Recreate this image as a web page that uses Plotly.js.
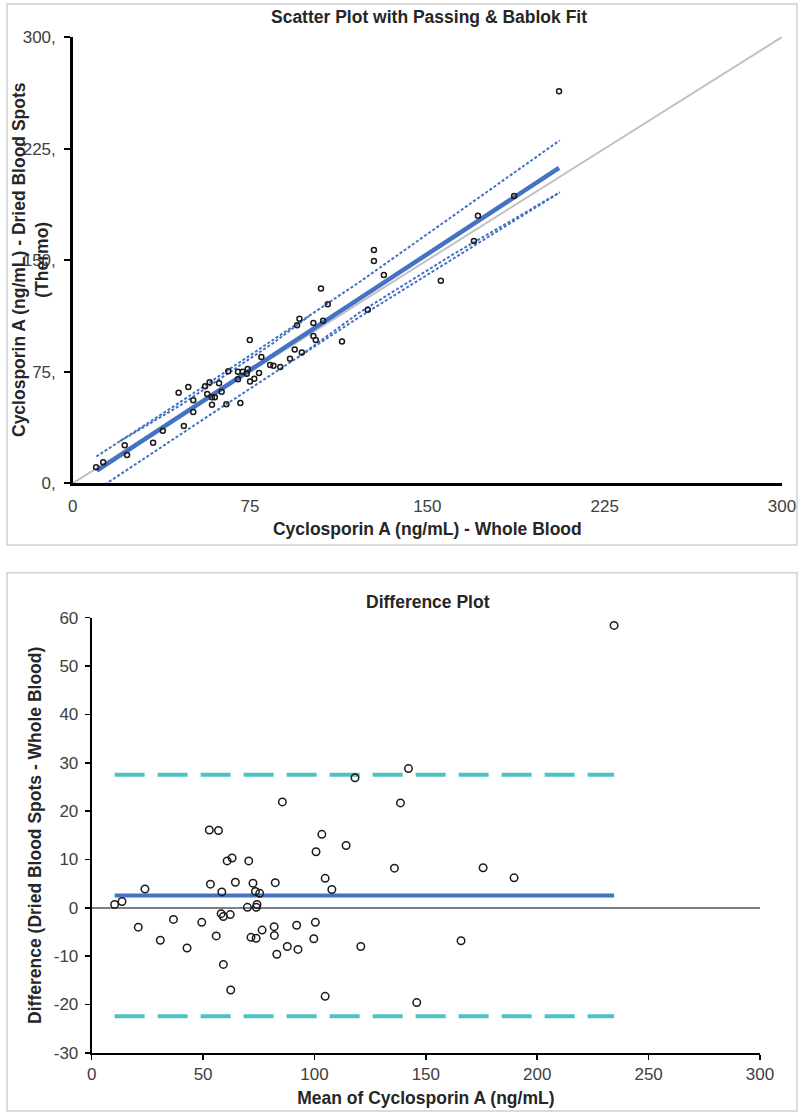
<!DOCTYPE html>
<html>
<head>
<meta charset="utf-8">
<script src="https://cdn.plot.ly/plotly-3.0.1.min.js"></script>
<style>html,body{margin:0;padding:0;background:#fff;}#chart{width:804px;height:1112px;}</style>
</head>
<body>
<div id="chart"></div>
<script>
// ---- Scatter plot data (Whole Blood vs Dried Blood Spots), ng/mL ----
const wholeBlood = [9.9,12.9,22.0,23.0,34.0,38.1,47.0,44.8,48.9,51.0,51.0,56.0,57.9,56.9,58.9,60.1,58.9,61.9,63.0,65.0,65.8,70.9,69.9,71.9,74.0,73.6,69.9,75.0,76.8,78.8,74.9,79.8,83.5,84.9,87.8,91.9,93.9,96.9,94.9,95.9,101.8,101.8,102.8,105.9,107.9,105.0,113.9,124.8,127.4,127.4,131.6,155.7,169.7,171.4,186.7,205.7];
const driedBlood = [10.8,14.1,25.5,19.0,27.3,35.4,38.5,60.9,64.7,47.9,55.8,65.2,67.9,60.0,57.8,57.8,52.8,67.2,61.6,53.1,75.3,54.0,75.0,75.0,76.8,73.7,69.9,68.5,70.3,74.1,96.3,84.9,79.5,79.0,78.2,83.7,90.0,88.0,106.2,110.6,107.7,99.0,96.3,109.3,120.3,131.0,95.4,116.7,156.8,149.5,140.1,136.1,162.9,179.8,193.1,263.6];

// Passing & Bablok fit line and confidence band
const fitX = [10.2, 205.7];
const fitY = [8.6, 212.0];
const identityX = [0, 300];
const identityY = [0, 300];
const ciUpperX = [10, 45.4, 121.5, 206];
const ciUpperY = [18, 54.5, 135.5, 230.5];
const ciUpperInnerX = [20, 45.4, 85, 100];
const ciUpperInnerY = [28.3, 52.3, 94.5, 112.5];
const ciLowerX = [10, 14.4, 60, 121.5, 206];
const ciLowerY = [-4.5, 0, 48, 112, 195.5];
const ciLowerInnerX = [95, 121.5, 160, 206];
const ciLowerInnerY = [84.4, 115, 153, 195.5];

const scatterTickVals = [0, 75, 150, 225, 300];
const scatterXTickText = ['0', '75', '150', '225', '300'];
const scatterYTickText = ['0,', '75,', '150,', '225,', '300,'];

// ---- Difference plot data ----
const meanValues = [10.3,13.6,23.9,20.9,30.8,36.7,42.8,49.4,52.8,56.9,53.3,55.9,59.1,62.4,58.4,58.1,59.1,62.2,60.8,63.0,64.5,70.5,72.4,69.9,73.5,75.4,74.2,73.9,71.5,73.8,76.5,82.4,81.9,82.0,83.1,85.6,87.8,92.0,92.6,99.7,100.4,100.7,103.3,104.8,107.8,104.8,114.2,118.2,120.8,135.9,138.6,142.2,145.9,165.8,175.7,189.6,234.5];
const diffValues = [0.7,1.3,3.9,-4.0,-6.7,-2.4,-8.3,-3.0,16.1,16.0,4.9,-5.8,-11.7,-17.0,3.3,-1.2,-1.8,-1.4,9.7,10.3,5.3,9.7,5.1,0.1,3.4,3.0,0.7,0.1,-6.1,-6.3,-4.6,5.2,-3.9,-5.7,-9.6,21.9,-8.0,-3.6,-8.6,-6.4,-3.0,11.6,15.2,6.1,3.8,-18.3,12.9,26.9,-8.0,8.2,21.7,28.8,-19.6,-6.8,8.3,6.2,58.4];
const meanDiff = 2.55;
const upperLoA = 27.5;
const lowerLoA = -22.4;
const refLineX = [10.3, 234.5];

const diffTickVals = [-30, -20, -10, 0, 10, 20, 30, 40, 50, 60];
const diffTickText = ['-30', '-20', '-10', '0', '10', '20', '30', '40', '50', '60'];
const meanTickVals = [0, 50, 100, 150, 200, 250, 300];
const meanTickText = ['0', '50', '100', '150', '200', '250', '300'];

const BLUE = '#4472C4';
const TEAL = '#4CC3C1';
const FONT = 'Liberation Sans, Arial, sans-serif';
const W = 804, H = 1112;
const px = v => v / W;
const py = v => 1 - v / H;

const traces = [
  {x: identityX, y: identityY, mode: 'lines', line: {color: '#C0C0C0', width: 2}, xaxis: 'x', yaxis: 'y', hoverinfo: 'skip'},
  {x: ciUpperX, y: ciUpperY, mode: 'lines', line: {color: BLUE, width: 2, dash: '3px,2px'}, xaxis: 'x', yaxis: 'y'},
  {x: ciUpperInnerX, y: ciUpperInnerY, mode: 'lines', line: {color: BLUE, width: 2, dash: '3px,2px'}, xaxis: 'x', yaxis: 'y'},
  {x: ciLowerX, y: ciLowerY, mode: 'lines', line: {color: BLUE, width: 2, dash: '3px,2px'}, xaxis: 'x', yaxis: 'y'},
  {x: ciLowerInnerX, y: ciLowerInnerY, mode: 'lines', line: {color: BLUE, width: 2, dash: '3px,2px'}, xaxis: 'x', yaxis: 'y'},
  {x: fitX, y: fitY, mode: 'lines', line: {color: BLUE, width: 4.5}, xaxis: 'x', yaxis: 'y'},
  {x: wholeBlood, y: driedBlood, mode: 'markers', marker: {symbol: 'circle-open', size: 5, color: '#1a1a1a', line: {width: 1.5, color: '#1a1a1a'}}, xaxis: 'x', yaxis: 'y'},

  {x: refLineX, y: refLineX.map(() => upperLoA), mode: 'lines', line: {color: TEAL, width: 4, dash: '30px,13px'}, xaxis: 'x2', yaxis: 'y2'},
  {x: refLineX, y: refLineX.map(() => lowerLoA), mode: 'lines', line: {color: TEAL, width: 4, dash: '30px,13px'}, xaxis: 'x2', yaxis: 'y2'},
  {x: refLineX, y: refLineX.map(() => meanDiff), mode: 'lines', line: {color: BLUE, width: 4}, xaxis: 'x2', yaxis: 'y2'},
  {x: meanValues, y: diffValues, mode: 'markers', marker: {symbol: 'circle-open', size: 7.5, color: '#1a1a1a', line: {width: 1.5, color: '#1a1a1a'}}, xaxis: 'x2', yaxis: 'y2'}
];

const tickFont = {family: FONT, size: 17, color: '#404040'};
const titleFont = {family: FONT, size: 17.5, color: '#262626'};

const layout = {
  width: W, height: H,
  margin: {l: 0, r: 0, t: 0, b: 0},
  paper_bgcolor: '#ffffff', plot_bgcolor: 'rgba(0,0,0,0)',
  showlegend: false,
  font: {family: FONT},
  title: {text: '<b>Scatter Plot with Passing &amp; Bablok Fit</b>', x: px(429), y: py(17), xanchor: 'center', yanchor: 'middle', xref: 'paper', yref: 'paper', font: titleFont},
  xaxis: {
    domain: [px(72.7), px(782)], range: [0, 300], tickvals: scatterTickVals, ticktext: scatterXTickText,
    ticks: '', showline: true, linecolor: '#000', linewidth: 2.5, showgrid: false, zeroline: false,
    tickfont: tickFont, ticklabelstandoff: 6, anchor: 'y',
    title: {text: '<b>Cyclosporin A (ng/mL) - Whole Blood</b>', font: titleFont, standoff: 8}
  },
  yaxis: {
    domain: [py(483.3), py(37)], range: [0, 300], tickvals: scatterTickVals, ticktext: scatterYTickText,
    ticks: 'outside', ticklen: 6, tickwidth: 2, tickcolor: '#000', showline: true, linecolor: '#000', linewidth: 2.5,
    showgrid: false, zeroline: false, tickfont: tickFont, ticklabelstandoff: 5, anchor: 'x'
  },
  xaxis2: {
    domain: [px(91.7), px(760)], range: [0, 300], tickvals: meanTickVals, ticktext: meanTickText,
    ticks: 'outside', ticklen: 5, tickwidth: 1.5, tickcolor: '#000', showline: true, linecolor: '#000', linewidth: 2,
    showgrid: false, zeroline: false, tickfont: tickFont, anchor: 'y2',
    title: {text: '<b>Mean of Cyclosporin A (ng/mL)</b>', font: titleFont, standoff: 8}
  },
  yaxis2: {
    domain: [py(1052.9), py(617.7)], range: [-30, 60], tickvals: diffTickVals, ticktext: diffTickText,
    ticks: 'outside', ticklen: 5, tickwidth: 1.5, tickcolor: '#000', showline: true, linecolor: '#000', linewidth: 2,
    showgrid: false, zeroline: true, zerolinecolor: '#808080', zerolinewidth: 1.5, tickfont: tickFont, ticklabelstandoff: 3, anchor: 'x2',
    title: {text: '<b>Difference (Dried Blood Spots - Whole Blood)</b>', font: titleFont, standoff: 8}
  },
  shapes: [
    {type: 'rect', xref: 'paper', yref: 'paper', x0: px(7), x1: px(797), y0: py(545), y1: py(4), line: {color: '#D0D0D0', width: 1.5}, layer: 'below'},
    {type: 'rect', xref: 'paper', yref: 'paper', x0: px(7), x1: px(797), y0: py(1111), y1: py(572.7), line: {color: '#D0D0D0', width: 1.5}, layer: 'below'}
  ],
  annotations: [
    {text: '<b>Cyclosporin A (ng/mL) - Dried Blood Spots<br>(Thermo)</b>', textangle: -90, xref: 'paper', yref: 'paper', x: px(30), y: py(260), xanchor: 'center', yanchor: 'middle', showarrow: false, font: titleFont},
    {text: '<b>Difference Plot</b>', xref: 'paper', yref: 'paper', x: px(427.5), y: py(602), xanchor: 'center', yanchor: 'middle', showarrow: false, font: titleFont}
  ]
};

Plotly.newPlot('chart', traces, layout, {displayModeBar: false, staticPlot: true});
</script>
</body>
</html>
